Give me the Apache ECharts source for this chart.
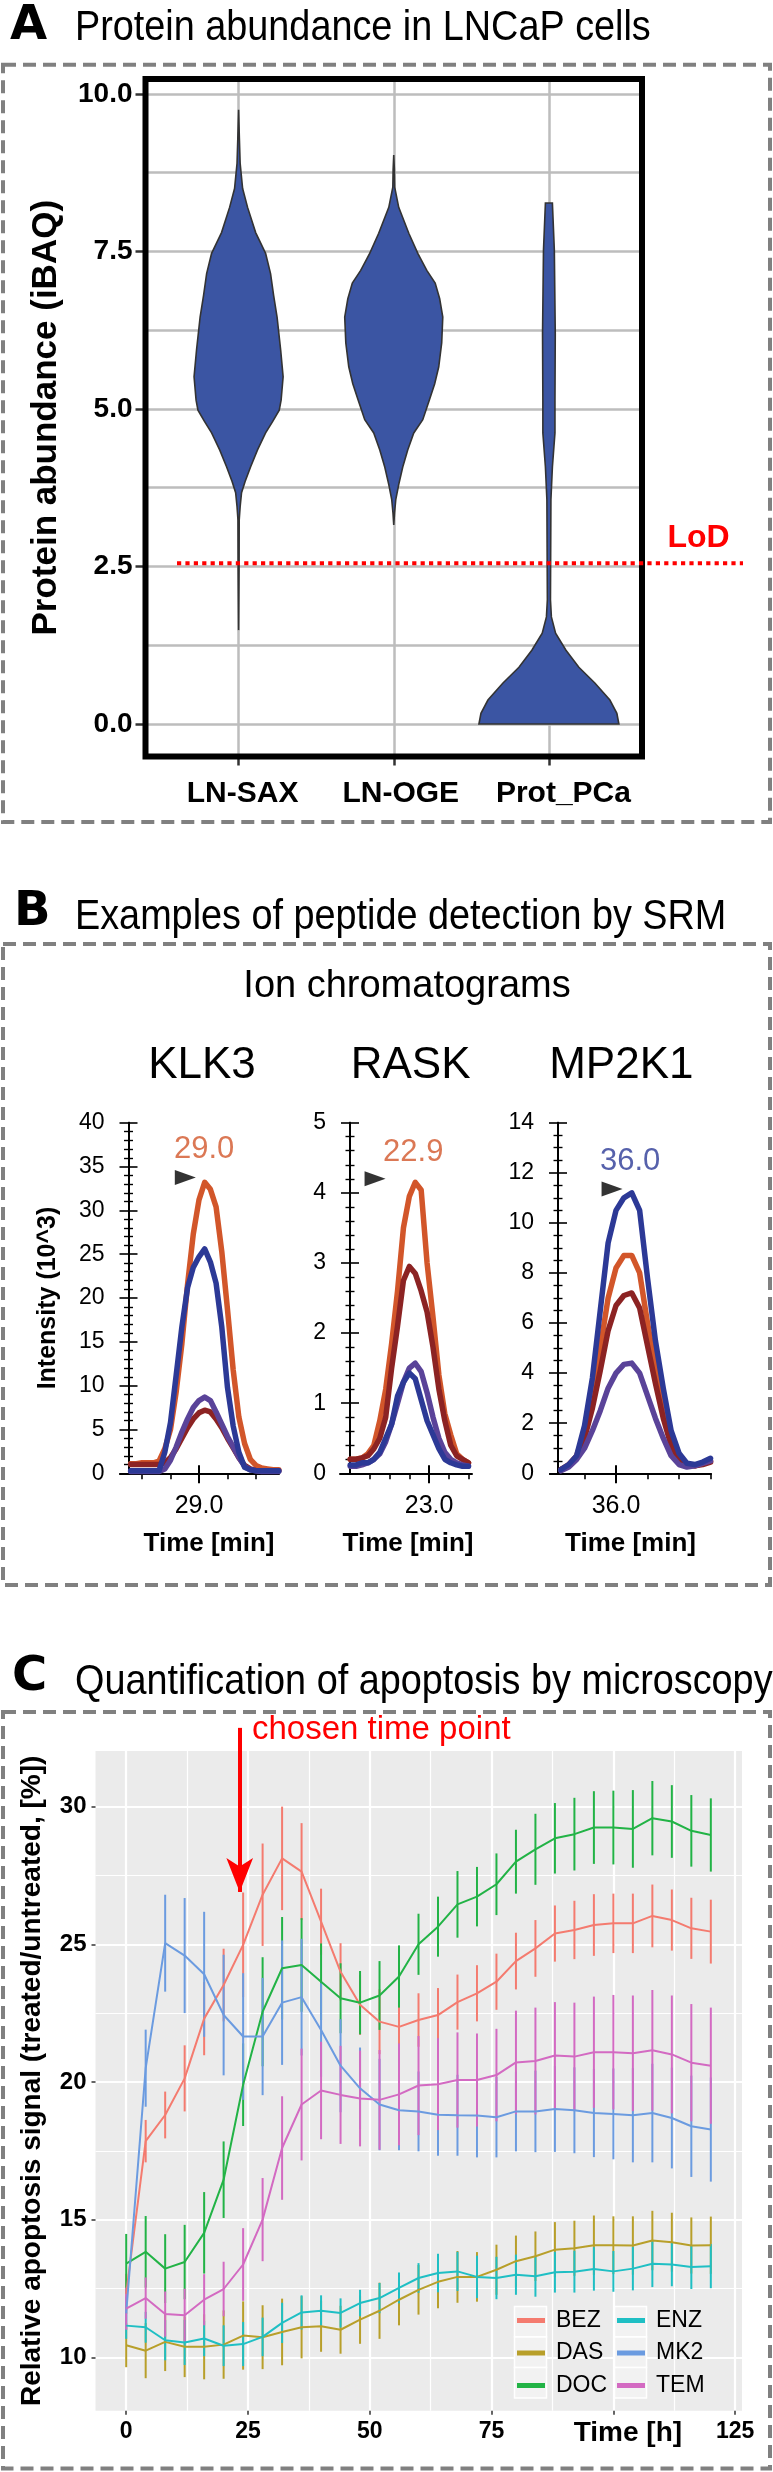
<!DOCTYPE html>
<html>
<head>
<meta charset="utf-8">
<script src="https://cdn.jsdelivr.net/npm/echarts@6/dist/echarts.min.js"></script>
<style>
html,body{margin:0;padding:0;background:#ffffff;}
#main{width:773px;height:2472px;}
</style>
</head>
<body>
<div id="main"></div>
<script>
const FONT = "'Liberation Sans', Arial, Helvetica, sans-serif";

// ---------------- Panel A : violin profiles ----------------
const violinCategories = ['LN-SAX', 'LN-OGE', 'Prot_PCa'];
const saxLevels    = [9.75, 9.3, 8.9, 8.5, 8.2, 7.8, 7.47, 7.15, 6.8, 6.46, 5.94, 5.51, 5.14, 4.98, 4.8, 4.62, 4.35, 4.08, 3.85, 3.67, 3.45, 3.24, 2.5, 1.49];
const saxHalfWidth = [0, 0.005, 0.010, 0.026, 0.058, 0.110, 0.174, 0.206, 0.226, 0.248, 0.271, 0.287, 0.274, 0.262, 0.219, 0.174, 0.122, 0.077, 0.042, 0.019, 0.010, 0.004, 0.003, 0];
const ogeLevels    = [9.03, 8.8, 8.52, 8.2, 7.79, 7.47, 7.2, 7.0, 6.75, 6.46, 6.05, 5.67, 5.4, 5.14, 4.83, 4.62, 4.35, 4.08, 3.8, 3.56, 3.35, 3.16];
const ogeHalfWidth = [0, 0.004, 0.006, 0.032, 0.097, 0.155, 0.213, 0.267, 0.296, 0.316, 0.309, 0.290, 0.264, 0.229, 0.187, 0.129, 0.090, 0.058, 0.032, 0.013, 0.005, 0];
const pcaLevels    = [8.27, 7.52, 6.2, 5.14, 4.62, 4.08, 3.56, 2.5, 1.97, 1.7, 1.44, 1.17, 0.9, 0.65, 0.38, 0.17, 0.0];
const pcaHalfWidth = [0.0225, 0.035, 0.041, 0.039, 0.039, 0.0225, 0.013, 0.011, 0.010, 0.016, 0.043, 0.110, 0.193, 0.296, 0.393, 0.438, 0.451];
const lodValue = 2.55;
const abundanceTicks = [0, 2.5, 5, 7.5, 10];
const abundanceGrid = [0, 1.25, 2.5, 3.75, 5, 6.25, 7.5, 8.75, 10];

// ---------------- Panel B : ion chromatograms ----------------
const klkTime     = [27.8, 27.9, 28.0, 28.1, 28.2, 28.3, 28.4, 28.5, 28.6, 28.7, 28.8, 28.9, 29.0, 29.1, 29.2, 29.3, 29.4, 29.5, 29.6, 29.7, 29.8, 29.9, 30.0, 30.1, 30.2, 30.3, 30.4];
const klkOrange   = [1.1, 1.1, 1.2, 1.2, 1.2, 1.4, 2.8, 5.0, 9.3, 14.8, 21.6, 27.3, 31.2, 33.2, 32.4, 30.4, 25.3, 18.7, 11.8, 6.4, 3.4, 1.6, 0.9, 0.6, 0.5, 0.4, 0.4];
const klkDarkRed  = [1.0, 1.0, 1.0, 1.0, 1.0, 1.0, 1.2, 1.8, 2.8, 4.0, 5.2, 6.2, 6.9, 7.2, 7.0, 6.2, 5.2, 4.0, 2.9, 1.8, 0.9, 0.5, 0.3, 0.3, 0.3, 0.3, 0.3];
const klkPurple   = [0.2, 0.2, 0.2, 0.2, 0.2, 0.2, 0.5, 1.5, 3.0, 4.7, 6.2, 7.5, 8.3, 8.7, 8.3, 7.0, 5.6, 4.2, 3.0, 1.8, 0.8, 0.4, 0.3, 0.2, 0.2, 0.2, 0.2];
const klkBlue     = [0.3, 0.3, 0.3, 0.3, 0.3, 0.3, 2.4, 5.8, 11.2, 16.7, 21.2, 23.5, 24.7, 25.6, 24.1, 21.7, 16.7, 9.8, 5.4, 2.4, 0.7, 0.4, 0.3, 0.3, 0.3, 0.3, 0.3];

const rasTime     = [22.60, 22.63, 22.66, 22.69, 22.72, 22.75, 22.78, 22.81, 22.84, 22.87, 22.90, 22.93, 22.96, 22.99, 23.02, 23.05, 23.08, 23.11, 23.14, 23.17, 23.20];
const rasOrange   = [0.2, 0.2, 0.22, 0.28, 0.4, 0.75, 1.2, 1.85, 2.6, 3.5, 3.95, 4.15, 4.04, 3.0, 2.23, 1.4, 0.85, 0.55, 0.28, 0.2, 0.15];
const rasDarkRed  = [0.2, 0.2, 0.22, 0.25, 0.35, 0.5, 0.8, 1.5, 2.1, 2.75, 2.95, 2.85, 2.6, 2.3, 1.8, 1.2, 0.75, 0.4, 0.25, 0.2, 0.15];
const rasPurple   = [0.1, 0.1, 0.12, 0.15, 0.2, 0.28, 0.45, 0.7, 1.0, 1.3, 1.5, 1.57, 1.45, 1.15, 0.8, 0.5, 0.3, 0.2, 0.15, 0.12, 0.1];
const rasBlue     = [0.12, 0.12, 0.15, 0.15, 0.2, 0.3, 0.5, 0.7, 1.1, 1.3, 1.43, 1.35, 1.05, 0.75, 0.55, 0.35, 0.2, 0.15, 0.12, 0.1, 0.1];

const mpTime      = [35.65, 35.70, 35.75, 35.80, 35.85, 35.90, 35.95, 36.00, 36.05, 36.10, 36.15, 36.20, 36.25, 36.30, 36.35, 36.40, 36.45, 36.50, 36.55, 36.60];
const mpOrange    = [0.15, 0.35, 0.7, 1.6, 3.1, 5.0, 7.0, 8.2, 8.7, 8.7, 8.0, 6.0, 4.2, 2.6, 1.3, 0.6, 0.35, 0.3, 0.4, 0.5];
const mpDarkRed   = [0.15, 0.3, 0.65, 1.4, 2.6, 4.1, 5.7, 6.7, 7.1, 7.2, 6.6, 5.1, 3.6, 2.2, 1.1, 0.55, 0.35, 0.3, 0.35, 0.45];
const mpPurple    = [0.1, 0.25, 0.55, 1.0, 1.7, 2.5, 3.4, 4.0, 4.35, 4.4, 4.0, 3.1, 2.2, 1.4, 0.7, 0.35, 0.25, 0.3, 0.4, 0.5];
const mpBlue      = [0.15, 0.35, 0.7, 1.9, 3.8, 6.5, 9.2, 10.5, 11.0, 11.2, 10.5, 7.8, 5.3, 3.4, 1.7, 0.8, 0.4, 0.35, 0.45, 0.6];

const peptideNames = ['KLK3', 'RASK', 'MP2K1'];
const peakTimeLabels = ['29.0', '22.9', '36.0'];
const peakMarkerTime  = [28.76, 22.726, 35.975];
const peakMarkerValue = [33.75, 4.2, 11.35];
const peakLabelTime   = [29.09, 22.92, 36.09];
const peakLabelValue  = [37.0, 4.58, 12.45];
const timeMajorTicks = [[29.0], [23.0], [36.0]];
const timeMinorTicks = [[28.0, 28.5, 29.5, 30.0], [22.7, 22.8, 22.9, 23.1, 23.2], [35.8, 36.2, 36.4, 36.6]];
const intensityMax = [40, 5, 14];
const intensityStep = [5, 1, 2];

// ---------------- Panel C : apoptosis time courses ----------------
const hours = [0, 4, 8, 12, 16, 20, 24, 28, 32, 36, 40, 44, 48, 52, 56, 60, 64, 68, 72, 76, 80, 84, 88, 92, 96, 100, 104, 108, 112, 116, 120];
const drugNames = ['BEZ', 'DAS', 'DOC', 'ENZ', 'MK2', 'TEM'];
const bezMean = [12.3, 17.85, 18.8, 20.13, 22.3, 23.52, 24.98, 26.8, 28.12, 27.64, 25.82, 24.0, 22.8, 22.19, 22.0, 22.25, 22.43, 22.9, 23.22, 23.64, 24.39, 24.85, 25.39, 25.52, 25.7, 25.76, 25.76, 26.03, 25.88, 25.58, 25.46];
const bezErr  = [0.73, 0.77, 0.85, 1.2, 1.33, 1.32, 1.9, 1.86, 1.88, 1.76, 1.2, 1.04, 1.09, 1.18, 1.0, 0.97, 0.98, 1.0, 1.02, 1.02, 1.03, 1.03, 1.02, 1.06, 1.12, 1.08, 1.08, 1.14, 1.11, 1.11, 1.16];
const dasMean = [10.44, 10.24, 10.56, 10.38, 10.38, 10.46, 10.79, 10.73, 10.92, 11.09, 11.13, 11.0, 11.37, 11.69, 12.09, 12.45, 12.74, 12.92, 12.92, 13.18, 13.49, 13.67, 13.91, 13.96, 14.07, 14.07, 14.06, 14.24, 14.18, 14.06, 14.07];
const dasErr  = [0.8, 1.0, 1.06, 1.1, 1.18, 1.24, 1.24, 1.16, 1.21, 1.13, 0.93, 0.87, 0.88, 1.02, 0.93, 0.9, 0.96, 0.94, 0.9, 0.91, 0.93, 0.9, 1.0, 1.0, 1.08, 1.05, 1.06, 1.08, 1.07, 1.02, 1.04];
const docMean = [13.4, 13.83, 13.22, 13.46, 14.52, 16.45, 19.9, 22.55, 24.13, 24.25, 23.64, 23.04, 22.88, 23.14, 23.83, 25.0, 25.64, 26.45, 26.73, 27.18, 28.0, 28.45, 28.85, 29.0, 29.24, 29.24, 29.19, 29.58, 29.46, 29.12, 28.97];
const docErr  = [1.08, 1.3, 1.25, 1.35, 1.48, 1.39, 1.5, 1.98, 1.86, 1.7, 1.39, 1.27, 1.15, 1.25, 1.13, 1.11, 1.09, 1.21, 1.08, 1.12, 1.16, 1.29, 1.28, 1.32, 1.32, 1.34, 1.41, 1.35, 1.32, 1.3, 1.33];
const enzMean = [11.15, 11.09, 10.62, 10.54, 10.68, 10.42, 10.48, 10.74, 11.25, 11.63, 11.69, 11.61, 11.97, 12.15, 12.52, 12.88, 13.06, 13.12, 12.92, 12.88, 13.0, 12.94, 13.09, 13.11, 13.21, 13.12, 13.22, 13.4, 13.37, 13.28, 13.31];
const enzErr  = [0.48, 0.56, 0.73, 0.82, 0.64, 0.74, 0.8, 0.7, 0.73, 0.62, 0.56, 0.53, 0.48, 0.55, 0.56, 0.54, 0.7, 0.71, 0.77, 0.77, 0.73, 0.74, 0.74, 0.76, 0.79, 0.74, 0.79, 0.85, 0.79, 0.8, 0.8];
const mk2Mean = [11.6, 20.5, 25.04, 24.59, 23.91, 22.43, 21.65, 21.65, 22.88, 23.08, 21.89, 20.59, 19.77, 19.18, 18.97, 18.93, 18.81, 18.79, 18.78, 18.72, 18.93, 18.93, 19.02, 18.97, 18.87, 18.84, 18.79, 18.87, 18.69, 18.39, 18.27];
const mk2Err  = [0.6, 1.4, 1.76, 2.09, 2.27, 2.19, 2.3, 2.13, 2.26, 2.12, 1.7, 1.69, 1.48, 1.66, 1.45, 1.45, 1.49, 1.47, 1.52, 1.46, 1.45, 1.48, 1.56, 1.56, 1.6, 1.65, 1.71, 1.79, 1.83, 1.84, 1.89];
const temMean = [11.77, 12.15, 11.57, 11.53, 12.09, 12.48, 13.37, 15.0, 17.6, 19.18, 19.69, 19.53, 19.4, 19.35, 19.55, 19.87, 19.92, 20.07, 20.07, 20.25, 20.71, 20.76, 20.96, 20.92, 21.08, 21.08, 21.04, 21.15, 21.0, 20.7, 20.59];
const temErr  = [0.76, 0.75, 0.82, 0.96, 0.93, 0.99, 1.32, 1.51, 1.88, 2.03, 1.77, 1.78, 1.74, 1.81, 1.85, 1.8, 1.67, 1.73, 1.69, 1.68, 1.88, 1.94, 1.94, 1.96, 2.02, 2.08, 2.1, 2.19, 2.14, 2.13, 2.11];
const hourTicks = [0, 25, 50, 75, 100, 125];
const hourMinor = [12.5, 37.5, 62.5, 87.5, 112.5];
const signalTicks = [10, 15, 20, 25, 30];
const signalMinor = [12.5, 17.5, 22.5, 27.5];
const chosenHour = 23.3;
const chosenArrowFrom = 32.86;
const chosenArrowTo = 26.9;

// ---------------- styles ----------------
const violinFill = '#3b55a3';
const traceColors = { orange: '#d2562a', darkred: '#8c2323', purple: '#5a4399', blue: '#2c3996' };
const drugColors = ['#f47b6f', '#b89f2a', '#22b346', '#1fbfc4', '#6b9be0', '#d36ac2'];

const violinProfiles = [
  { levels: saxLevels, half: saxHalfWidth },
  { levels: ogeLevels, half: ogeHalfWidth },
  { levels: pcaLevels, half: pcaHalfWidth }
];
const chromData = [
  { time: klkTime, traces: [klkOrange, klkDarkRed, klkPurple, klkBlue] },
  { time: rasTime, traces: [rasOrange, rasDarkRed, rasPurple, rasBlue] },
  { time: mpTime,  traces: [mpOrange, mpDarkRed, mpPurple, mpBlue] }
];
const traceOrder = ['orange', 'darkred', 'purple', 'blue'];
const drugMeans = [bezMean, dasMean, docMean, enzMean, mk2Mean, temMean];
const drugErrs  = [bezErr, dasErr, docErr, enzErr, mk2Err, temErr];
const peakLabelColors = [traceColors.orange, traceColors.orange, traceColors.blue];

const bGrids = [
  { left: 120, width: 159, xmin: 27.614, xmax: 30.404, yOffset: -8.5, namePad: 19 },
  { left: 340, width: 132, xmin: 22.548, xmax: 23.218, yOffset: -10, namePad: 4 },
  { left: 550, width: 161, xmin: 35.581, xmax: 36.603, yOffset: -8, namePad: 0 }
];
const bMinorSplit = [5, 5, 4];

// C scales
const cXMin = -6.3, cXMax = 126.4, cYMin = 8.06, cYMax = 32.02;
const cPxPerUnit = 659.7 / (cYMax - cYMin);

const grid = [
  { left: 145.5, top: 79, width: 496.5, height: 677.5, show: true, borderColor: '#000', borderWidth: 6, backgroundColor: 'transparent', z: 2 },
  { left: 177, top: 79, width: 566, height: 677.5 }
];
bGrids.forEach(g => grid.push({ left: g.left, top: 1122.7, width: g.width, height: 350.6 }));
grid.push({ left: 95.5, top: 1751, width: 646.5, height: 659.7, show: true, backgroundColor: '#ebebeb', borderWidth: 0, z: 0 });
grid.push({ left: 95.5, top: 1711, width: 646.5, height: 699.7 });

const xAxis = [];
const yAxis = [];
const series = [];

// ----- Panel A axes -----
const catRich = {};
[8, 14, 29].forEach((p, i) => {
  catRich['c' + i] = { fontSize: 30, fontWeight: 'bold', color: '#000', fontFamily: FONT, padding: [0, 0, 0, p] };
});
xAxis.push({
  gridIndex: 0, type: 'value', position: 'bottom', min: 0.4, max: 3.6, z: 0,
  axisLine: { show: false, onZero: false },
  axisTick: { show: true, customValues: [1, 2, 3], length: 9, lineStyle: { color: '#333', width: 2.5 } },
  axisLabel: { customValues: [1, 2, 3], margin: 22, formatter: v => '{c' + (v - 1) + '|' + violinCategories[v - 1] + '}', rich: catRich },
  splitLine: { show: true, lineStyle: { color: '#bdbdbd', width: 2.5 } }
});
xAxis.push({ gridIndex: 1, type: 'value', min: 0, max: 1, show: false, axisLine: { onZero: false } });
yAxis.push({
  gridIndex: 0, type: 'value', position: 'left', min: -0.516, max: 10.238, z: 0,
  axisLine: { show: false, onZero: false },
  axisTick: { show: true, customValues: abundanceTicks, length: 10, lineStyle: { color: '#333', width: 2.5 } },
  axisLabel: { customValues: abundanceTicks, formatter: v => v.toFixed(1), fontSize: 28, fontWeight: 'bold', color: '#000', margin: 13 },
  splitLine: { show: false },
  name: 'Protein abundance (iBAQ)', nameLocation: 'middle', nameGap: 82,
  nameTextStyle: { fontSize: 35, fontWeight: 'bold', color: '#000' }
});
yAxis.push({
  gridIndex: 0, type: 'value', position: 'left', min: -0.516, max: 10.238, z: 0,
  axisLine: { show: false, onZero: false },
  axisTick: { show: false, customValues: abundanceGrid },
  axisLabel: { show: false },
  splitLine: { show: true, lineStyle: { color: '#bdbdbd', width: 2.5 } }
});
yAxis.push({ gridIndex: 1, type: 'value', min: -0.516, max: 10.238, show: false, axisLine: { onZero: false } });

series.push({
  type: 'custom', name: 'violins', xAxisIndex: 0, yAxisIndex: 0, z: 3, silent: true,
  data: [[1, 5], [2, 5], [3, 5]],
  encode: { x: 0, y: 1 },
  renderItem: function (params, api) {
    const prof = violinProfiles[params.dataIndex];
    const cx = params.dataIndex + 1;
    const left = prof.levels.map((v, i) => api.coord([cx - prof.half[i], v]));
    const right = prof.levels.map((v, i) => api.coord([cx + prof.half[i], v])).reverse();
    return {
      type: 'polygon',
      shape: { points: left.concat(right) },
      style: { fill: violinFill, stroke: '#333333', lineWidth: 1.6 }
    };
  }
});
series.push({
  type: 'line', name: 'LoD', xAxisIndex: 1, yAxisIndex: 2, z: 6, silent: true,
  symbol: 'circle', symbolSize: 0.1, showSymbol: true,
  lineStyle: { color: '#ff0000', width: 4, type: [4.2, 4.2] },
  itemStyle: { color: '#ff0000' },
  data: [
    [0, lodValue],
    { value: [1, lodValue], label: { show: true, position: 'inside', offset: [-44.5, -25], formatter: 'LoD', fontSize: 32, fontWeight: 'bold', color: '#ff0000' } }
  ]
});

// ----- Panel B axes and traces -----
bGrids.forEach((g, k) => {
  const gi = 2 + k;
  const xBase = xAxis.length;
  xAxis.push({
    gridIndex: gi, type: 'value', position: 'bottom', min: g.xmin, max: g.xmax,
    axisLine: { show: true, onZero: false, lineStyle: { color: '#000', width: 2 } },
    axisTick: { show: true, customValues: timeMajorTicks[k], length: 10, lineStyle: { color: '#000', width: 2 } },
    axisLabel: { customValues: timeMajorTicks[k], formatter: v => v.toFixed(1), fontSize: 25, color: '#000', margin: 20 },
    splitLine: { show: false },
    name: 'Time [min]', nameLocation: 'middle', nameGap: 58,
    nameTextStyle: { fontSize: 26, fontWeight: 'bold', color: '#000', padding: [0, 0, 0, g.namePad] }
  });
  xAxis.push({
    gridIndex: gi, type: 'value', position: 'bottom', min: g.xmin, max: g.xmax,
    axisLine: { show: false, onZero: false },
    axisTick: { show: true, customValues: timeMinorTicks[k], length: 6, lineStyle: { color: '#000', width: 1.6 } },
    axisLabel: { show: false }, splitLine: { show: false }
  });
  xAxis.push({
    gridIndex: gi, type: 'value', position: 'bottom', min: g.xmin, max: g.xmax,
    axisLine: { show: false, onZero: false },
    axisTick: { show: true, inside: true, customValues: timeMajorTicks[k], length: 8, lineStyle: { color: '#000', width: 2 } },
    axisLabel: { show: false }, splitLine: { show: false }
  });
  const yBase = yAxis.length;
  const yCommon = {
    gridIndex: gi, type: 'value', position: 'left', offset: g.yOffset,
    min: 0, max: intensityMax[k], interval: intensityStep[k],
    axisLine: { show: true, onZero: false, lineStyle: { color: '#000', width: 2 } },
    minorTick: { show: true, splitNumber: bMinorSplit[k], length: 4.5, lineStyle: { color: '#000', width: 1.4 } },
    splitLine: { show: false }, minorSplitLine: { show: false }
  };
  const yOut = Object.assign({}, yCommon, {
    axisTick: { show: true, inside: false, length: 9, lineStyle: { color: '#000', width: 1.6 } },
    axisLabel: { fontSize: 23, color: '#000', margin: 24 }
  });
  if (k === 0) {
    yOut.name = 'Intensity (10^3)';
    yOut.nameLocation = 'middle';
    yOut.nameGap = 68;
    yOut.nameTextStyle = { fontSize: 25, fontWeight: 'bold', color: '#000' };
  }
  yAxis.push(yOut);
  yAxis.push(Object.assign({}, yCommon, {
    axisTick: { show: true, inside: true, length: 9, lineStyle: { color: '#000', width: 1.6 } },
    axisLabel: { show: false }
  }));
  const cd = chromData[k];
  cd.traces.forEach((vals, ti) => {
    const col = traceColors[traceOrder[ti]];
    series.push({
      type: 'line', name: peptideNames[k] + '-' + traceOrder[ti], xAxisIndex: xBase, yAxisIndex: yBase,
      data: cd.time.map((t, i) => [t, vals[i]]), showSymbol: false, symbol: 'none', silent: true, z: 3,
      lineStyle: { color: col, width: 5.5, cap: 'round', join: 'round' }, itemStyle: { color: col }
    });
  });
  series.push({
    type: 'scatter', name: peptideNames[k] + '-marker', xAxisIndex: xBase, yAxisIndex: yBase, z: 5, silent: true,
    data: [[peakMarkerTime[k], peakMarkerValue[k]]],
    symbol: 'triangle', symbolSize: [15, 21], symbolRotate: -90, itemStyle: { color: '#000' }
  });
  series.push({
    type: 'scatter', name: peptideNames[k] + '-label', xAxisIndex: xBase, yAxisIndex: yBase, z: 5, silent: true,
    data: [[peakLabelTime[k], peakLabelValue[k]]],
    symbolSize: 1, itemStyle: { color: 'rgba(0,0,0,0)' },
    label: { show: true, position: 'inside', formatter: peakTimeLabels[k], fontSize: 31, color: peakLabelColors[k] }
  });
});

// ----- Panel C axes -----
const cX = xAxis.length;
xAxis.push({
  gridIndex: 5, type: 'value', position: 'bottom', min: cXMin, max: cXMax, z: 1,
  axisLine: { show: false, onZero: false },
  axisTick: { show: true, customValues: hourTicks, length: 4, lineStyle: { color: '#333', width: 1.5 } },
  axisLabel: {
    customValues: hourTicks, fontSize: 23, fontWeight: 'bold', color: '#000', margin: 9,
    formatter: v => (v === 100 ? '{t|Time [h]}' : String(v)),
    rich: { t: { fontSize: 28, fontWeight: 'bold', color: '#000', fontFamily: FONT, padding: [0, 0, 0, 29] } }
  },
  splitLine: { show: true, lineStyle: { color: '#ffffff', width: 2.2 } }
});
xAxis.push({
  gridIndex: 5, type: 'value', position: 'bottom', min: cXMin, max: cXMax, z: 1,
  axisLine: { show: false, onZero: false },
  axisTick: { show: false, customValues: hourMinor },
  axisLabel: { show: false },
  splitLine: { show: true, lineStyle: { color: '#ffffff', width: 1.2 } }
});
const cY = yAxis.length;
yAxis.push({
  gridIndex: 5, type: 'value', position: 'left', min: cYMin, max: cYMax, z: 1,
  axisLine: { show: false, onZero: false },
  axisTick: { show: true, customValues: signalTicks, length: 4, lineStyle: { color: '#333', width: 1.5 } },
  axisLabel: { customValues: signalTicks, fontSize: 24, fontWeight: 'bold', color: '#000', margin: 9 },
  splitLine: { show: true, lineStyle: { color: '#ffffff', width: 2.2 } },
  name: 'Relative apoptosis signal (treated/untreated, [%])', nameLocation: 'middle', nameGap: 49,
  nameTextStyle: { fontSize: 28, fontWeight: 'bold', color: '#000' }
});
yAxis.push({
  gridIndex: 5, type: 'value', position: 'left', min: cYMin, max: cYMax, z: 1,
  axisLine: { show: false, onZero: false },
  axisTick: { show: false, customValues: signalMinor },
  axisLabel: { show: false },
  splitLine: { show: true, lineStyle: { color: '#ffffff', width: 1.2 } }
});
const cXo = xAxis.length;
xAxis.push({ gridIndex: 6, type: 'value', min: cXMin, max: cXMax, show: false, axisLine: { onZero: false } });
const cYo = yAxis.length;
yAxis.push({ gridIndex: 6, type: 'value', min: cYMin, max: cYMax + 40 / cPxPerUnit, show: false, axisLine: { onZero: false } });

drugNames.forEach((name, g) => {
  series.push({
    type: 'line', name: name, xAxisIndex: cX, yAxisIndex: cY, z: 3, silent: true,
    data: hours.map((h, i) => [h, drugMeans[g][i]]), showSymbol: false, symbol: 'none',
    lineStyle: { color: drugColors[g], width: 2 }, itemStyle: { color: drugColors[g] }
  });
});
drugNames.forEach((name, g) => {
  series.push({
    type: 'custom', name: name, xAxisIndex: cX, yAxisIndex: cY, z: 3, silent: true,
    data: hours.map((h, i) => [h, drugMeans[g][i] - drugErrs[g][i], drugMeans[g][i] + drugErrs[g][i]]),
    encode: { x: 0, y: [1, 2] },
    itemStyle: { color: drugColors[g] },
    renderItem: function (params, api) {
      const lo = api.coord([api.value(0), api.value(1)]);
      const hi = api.coord([api.value(0), api.value(2)]);
      return { type: 'line', shape: { x1: lo[0], y1: lo[1], x2: hi[0], y2: hi[1] }, style: { stroke: drugColors[g], lineWidth: 2 } };
    }
  });
});
series.push({
  type: 'line', name: 'chosen', xAxisIndex: cXo, yAxisIndex: cYo, z: 10, silent: true, clip: false,
  data: [[chosenHour, chosenArrowTo]], showSymbol: false, symbol: 'none', lineStyle: { opacity: 0 },
  markLine: {
    silent: true, animation: false, symbol: ['none', 'arrow'], symbolSize: [20, 34],
    label: { show: false },
    lineStyle: { color: '#ff0000', width: 4, type: 'solid', opacity: 1 },
    data: [[{ coord: [chosenHour, chosenArrowFrom] }, { coord: [chosenHour, chosenArrowTo] }]]
  }
});

const legendCommon = {
  orient: 'vertical', top: 2309, padding: 0, itemWidth: 28, itemHeight: 5, itemGap: 9.5, icon: 'rect',
  selectedMode: false, z: 6,
  textStyle: { fontSize: 23, color: '#000', fontFamily: FONT, lineHeight: 22, padding: [0, 0, 0, 6] }
};
const legend = [
  Object.assign({}, legendCommon, { left: 517, data: drugNames.slice(0, 3) }),
  Object.assign({}, legendCommon, { left: 617, data: drugNames.slice(3, 6) })
];

// ----- decorations: titles, dashed frames, legend key cells -----
function txt(x, y, text, size, opts) {
  opts = opts || {};
  return {
    type: 'text', x: x, y: y, z: 20, silent: true, scaleX: opts.scaleX || 1,
    style: {
      text: text, fontSize: size, fontFamily: opts.family || FONT, fontWeight: opts.weight || 'normal',
      fill: opts.color || '#000', align: opts.align || 'left', verticalAlign: 'middle'
    }
  };
}
function dashed(y1, y2) {
  return {
    type: 'rect', z: 19, silent: true,
    shape: { x: 3, y: y1, width: 767, height: y2 - y1 },
    style: { fill: 'none', stroke: '#808080', lineWidth: 4, lineDash: [13, 7] }
  };
}
function keyCell(x, y) {
  return {
    type: 'rect', z: 2, silent: true,
    shape: { x: x, y: y, width: 32, height: 30.5 },
    style: { fill: '#f2f2f2', stroke: '#ffffff', lineWidth: 1.5 }
  };
}
const graphic = [
  dashed(64.7, 822), dashed(944, 1585), dashed(1712, 2468.5),
  txt(10, 27, 'A', 48, { weight: 'bold', family: "'DejaVu Sans', sans-serif" }),
  txt(75, 28.5, 'Protein abundance in LNCaP cells', 42, { scaleX: 0.9 }),
  txt(14, 913, 'B', 48, { weight: 'bold', family: "'DejaVu Sans', sans-serif" }),
  txt(75, 917, 'Examples of peptide detection by SRM', 42, { scaleX: 0.9 }),
  txt(407, 987, 'Ion chromatograms', 38, { align: 'center' }),
  txt(202, 1066, peptideNames[0], 44, { align: 'center' }),
  txt(410.6, 1066, peptideNames[1], 44, { align: 'center' }),
  txt(621.3, 1066, peptideNames[2], 44, { align: 'center' }),
  txt(12, 1678, 'C', 48, { weight: 'bold', family: "'DejaVu Sans', sans-serif" }),
  txt(75, 1682, 'Quantification of apoptosis by microscopy', 42, { scaleX: 0.9 }),
  txt(252, 1729.5, 'chosen time point', 33, { color: '#ff0000' }),
  keyCell(514.5, 2306.5), keyCell(514.5, 2337), keyCell(514.5, 2367.5),
  keyCell(614.5, 2306.5), keyCell(614.5, 2337), keyCell(614.5, 2367.5)
];

const chart = echarts.init(document.getElementById('main'), null, { renderer: 'canvas', width: 773, height: 2472 });
chart.setOption({
  animation: false,
  backgroundColor: '#ffffff',
  textStyle: { fontFamily: FONT },
  grid: grid,
  xAxis: xAxis,
  yAxis: yAxis,
  legend: legend,
  graphic: graphic,
  series: series
});
</script>
</body>
</html>
